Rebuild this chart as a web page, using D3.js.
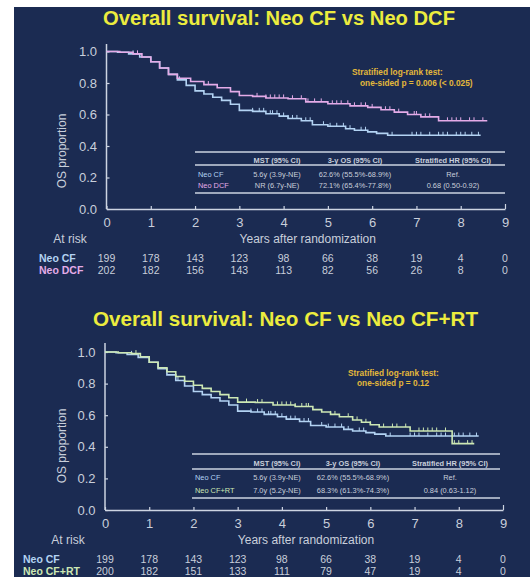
<!DOCTYPE html>
<html><head><meta charset="utf-8">
<script src="https://cdn.jsdelivr.net/npm/d3@7"></script>
<style>body{margin:0;background:#fff}svg{display:block}</style>
</head><body>
<svg id="c" width="530" height="577"></svg>
<script>
// ---------- data ----------
const years = [0,1,2,3,4,5,6,7,8,9];
const yTicks = [0,0.2,0.4,0.6,0.8,1.0];

const cfTime = [0,0.25,0.5,0.75,1.0,1.2,1.4,1.6,1.8,2.0,2.2,2.4,2.6,2.8,3.0,3.3,3.6,3.9,4.1,4.4,4.65,5.0,5.4,5.6,5.9,6.1,6.35,8.45];
const cfSurv = [1.0,0.995,0.985,0.965,0.935,0.895,0.855,0.82,0.785,0.75,0.73,0.71,0.69,0.665,0.626,0.62,0.605,0.59,0.575,0.56,0.535,0.525,0.51,0.50,0.49,0.48,0.468,0.468];
const cfCens = [0.6,1.65,3.3,3.45,3.55,3.7,3.75,3.85,4.0,4.1,4.2,4.3,4.5,4.6,4.9,5.05,5.2,5.35,5.5,5.75,5.85,6.45,6.9,7.0,7.1,7.3,7.5,7.6,7.7,7.9,8.0,8.1,8.25,8.4];

const dcfTime = [0,0.3,0.6,0.8,1.0,1.2,1.4,1.6,1.9,2.2,2.5,2.8,3.0,3.3,3.6,4.1,4.5,5.0,5.5,5.9,6.2,6.5,6.8,7.1,7.5,8.6];
const dcfSurv = [1.0,0.995,0.985,0.965,0.935,0.895,0.855,0.83,0.81,0.79,0.77,0.745,0.721,0.715,0.705,0.70,0.68,0.668,0.655,0.645,0.63,0.615,0.60,0.585,0.56,0.56];
const dcfCens = [0.7,2.3,3.4,3.6,3.7,3.8,3.9,4.0,4.2,4.4,4.55,4.7,4.85,5.1,5.2,5.3,5.45,5.6,5.75,5.85,6.0,6.3,6.4,6.6,6.95,7.0,7.2,7.3,7.7,7.8,7.9,8.0,8.2,8.3,8.5];

const rtTime = [0,0.3,0.6,0.8,1.0,1.2,1.4,1.6,1.8,2.0,2.2,2.4,2.6,2.8,3.0,3.4,3.8,4.3,4.7,4.9,5.1,5.3,5.6,5.8,6.0,6.2,6.9,7.85,8.35];
const rtSurv = [1.0,0.995,0.99,0.97,0.935,0.9,0.875,0.845,0.815,0.79,0.77,0.75,0.73,0.71,0.683,0.68,0.665,0.655,0.635,0.62,0.605,0.59,0.57,0.555,0.54,0.525,0.50,0.42,0.42];
const rtCens = [0.7,3.2,3.45,3.55,3.9,4.0,4.1,4.2,4.3,4.45,4.55,4.6,5.1,5.2,5.5,5.7,5.9,6.0,6.3,6.5,6.6,6.8,7.1,7.2,7.3,7.4,7.5,7.7,7.9,8.0,8.2,8.3];

const riskCF  = [199,178,143,123,98,66,38,19,4,0];
const riskDCF = [202,182,156,143,113,82,56,26,8,0];
const riskRT  = [200,182,151,133,111,79,47,19,4,0];

const tableHeader = ["MST (95% CI)","3-y OS (95% CI)","Stratified HR (95% CI)"];
const tableTop = [["Neo CF","5.6y (3.9y-NE)","62.6% (55.5%-68.9%)","Ref."],
                  ["Neo DCF","NR (6.7y-NE)","72.1% (65.4%-77.8%)","0.68 (0.50-0.92)"]];
const tableBot = [["Neo CF","5.6y (3.9y-NE)","62.6% (55.5%-68.9%)","Ref."],
                  ["Neo CF+RT","7.0y (5.2y-NE)","68.3% (61.3%-74.3%)","0.84 (0.63-1.12)"]];

// ---------- style ----------
const BG="#1b2b52", AX="#cdd4e2", TXT="#c9cfdb", YEL="#ecec3e", GOLD="#e3b83a";
const C_CF="#b3d3f3", C_DCF="#e4abe8", C_RT="#cde8b4";
const FONT="Liberation Sans, Arial, sans-serif";

const svg=d3.select("#c").style("font-family",FONT);
svg.append("rect").attr("x",14).attr("y",7).attr("width",516).attr("height",570).attr("fill",BG);

function panel(o){
  const g=svg.append("g");
  const x=d3.scaleLinear().domain([0,9]).range([o.x0,o.x9]);
  const y=d3.scaleLinear().domain([0,1]).range([o.y0,o.y1]);
  // title
  g.append("text").attr("x",o.tx).attr("y",o.ty).attr("text-anchor","middle")
   .attr("fill",YEL).attr("font-weight","bold").attr("font-size",20)
   .attr("textLength",o.tw).attr("lengthAdjust","spacingAndGlyphs").text(o.title);
  // y axis
  const ya=g.append("g").attr("transform",`translate(${o.x0},0)`)
   .call(d3.axisLeft(y).tickValues(yTicks).tickFormat(d3.format(".1f")).tickSize(-3).tickSizeOuter(0).tickPadding(9.5));
  ya.select(".domain").remove();
  ya.append("line").attr("x1",0).attr("x2",0).attr("y1",o.yTopLine).attr("y2",o.y0).attr("stroke",AX).attr("stroke-width",1.5);
  ya.selectAll(".tick line").attr("stroke",AX).attr("stroke-width",1.2);
  ya.selectAll(".tick text").attr("fill",TXT).attr("font-size",13).attr("font-family",FONT);
  // x axis
  const xa=g.append("g").attr("transform",`translate(0,${o.y0})`)
   .call(d3.axisBottom(x).tickValues(years).tickSize(-3).tickSizeOuter(0).tickPadding(9));
  xa.select(".domain").attr("stroke",AX).attr("stroke-width",1.5);
  xa.selectAll(".tick line").attr("stroke",AX).attr("stroke-width",1.2);
  xa.selectAll(".tick").filter(d=>d===9).select("line").attr("y2",-5);
  xa.selectAll(".tick text").attr("fill",TXT).attr("font-size",13).attr("font-family",FONT);
  // y label
  g.append("text").attr("transform",`translate(${o.ylx},${o.yly}) rotate(-90)`).attr("text-anchor","middle")
   .attr("fill",TXT).attr("font-size",12).text("OS proportion");
  // x label
  g.append("text").attr("x",x(4.5)+2).attr("y",o.y0+34).attr("text-anchor","middle")
   .attr("fill",TXT).attr("font-size",12).text("Years after randomization");
  g.append("text").attr("x",o.arx).attr("y",o.y0+34).attr("text-anchor","middle")
   .attr("fill",TXT).attr("font-size",12).text("At risk");
  // stats text
  o.stat.forEach((s,i)=>g.append("text").attr("x",s[0]).attr("y",s[1]).attr("fill",GOLD)
   .attr("font-weight","bold").attr("font-size",8.3).text(s[2]));
  // table
  const tb=o.table;
  [tb.l1,tb.l2,tb.l3].forEach(yy=>g.append("line").attr("x1",tb.xa).attr("x2",tb.xb).attr("y1",yy).attr("y2",yy)
   .attr("stroke",AX).attr("stroke-width",1.3));
  tableHeader.forEach((h,i)=>g.append("text").attr("x",tb.cols[i]).attr("y",tb.hy).attr("text-anchor","middle")
   .attr("fill",TXT).attr("font-weight","bold").attr("font-size",7.4).text(h));
  o.rows.forEach((r,ri)=>{
    g.append("text").attr("x",tb.lx).attr("y",tb.ry[ri]).attr("fill",o.colors[ri]).attr("font-size",7.4).text(r[0]);
    r.slice(1).forEach((v,ci)=>g.append("text").attr("x",tb.cols[ci]).attr("y",tb.ry[ri]).attr("text-anchor","middle")
      .attr("fill",TXT).attr("font-size",7.4).text(v));
  });
  // curves
  const line=d3.line().x(d=>x(d[0])).y(d=>y(d[1])).curve(d3.curveStepAfter);
  o.series.forEach(s=>{
    const pts=s.t.map((t,i)=>[t,s.s[i]]);
    g.append("path").attr("d",line(pts)).attr("fill","none").attr("stroke",s.c).attr("stroke-width",1.6);
    const surv=t=>{let v=s.s[0];for(let i=0;i<s.t.length;i++){if(s.t[i]<=t)v=s.s[i];}return v;};
    g.selectAll(null).data(s.cens).join("line")
     .attr("x1",d=>x(d)).attr("x2",d=>x(d)).attr("y1",d=>y(surv(d))).attr("y2",d=>y(surv(d))-3.5)
     .attr("stroke",s.c).attr("stroke-width",1);
  });
  // at risk
  o.risk.forEach((r,ri)=>{
    g.append("text").attr("x",o.rlx).attr("y",o.ry[ri]).attr("fill",o.colors[ri]).attr("font-weight","bold")
     .attr("font-size",10.5).text(o.rows[ri][0]);
    g.selectAll(null).data(r).join("text").attr("x",(d,i)=>x(years[i])).attr("y",o.ry[ri])
     .attr("text-anchor","middle").attr("fill",TXT).attr("font-size",10.5).text(d=>d);
  });
}

panel({title:"Overall survival: Neo CF vs Neo DCF",tx:279,ty:25,tw:352,
  x0:106.5,x9:505,y0:209,y1:51.5,yTopLine:44,ylx:66,yly:151,arx:70,
  stat:[[352,75,"Stratified log-rank test:"],[360,86,"one-sided p = 0.006 (< 0.025)"]],
  table:{l1:152,l2:165,l3:193,xa:195,xb:505,hy:162.5,ry:[176.5,187.5],lx:198,cols:[277,355,453]},
  rows:tableTop,colors:[C_CF,C_DCF],
  series:[{t:cfTime,s:cfSurv,cens:cfCens,c:C_CF},{t:dcfTime,s:dcfSurv,cens:dcfCens,c:C_DCF}],
  risk:[riskCF,riskDCF],rlx:39,ry:[262,274]});

panel({title:"Overall survival: Neo CF vs Neo CF+RT",tx:285.5,ty:326,tw:385,
  x0:105,x9:503,y0:510,y1:352,yTopLine:343,ylx:66,yly:446,arx:68,
  stat:[[348,376,"Stratified log-rank test:"],[357,386,"one-sided p = 0.12"]],
  table:{l1:454,l2:469,l3:498,xa:192,xb:500,hy:465.5,ry:[480,492.5],lx:195,cols:[277,353,450]},
  rows:tableBot,colors:[C_CF,C_RT],
  series:[{t:cfTime,s:cfSurv,cens:cfCens,c:C_CF},{t:rtTime,s:rtSurv,cens:rtCens,c:C_RT}],
  risk:[riskCF,riskRT],rlx:23,ry:[562.5,574.5]});
</script>
</body></html>
